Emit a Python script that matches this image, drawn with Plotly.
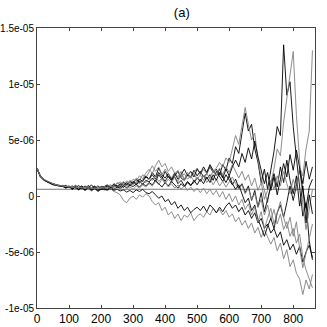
import plotly.graph_objects as go

# sample positions (iteration index), one value every 10 steps
steps = list(range(0, 870, 10))

# series values, in units of 1e-6
s1 = [2.5, 1.8, 1.5, 1.3, 1.2, 1.1, 1.0, 0.9, 0.95, 0.8, 0.9, 0.7, 0.95, 0.75, 0.9, 0.65, 0.95, 0.7, 0.9, 0.6, 0.85,
      0.85, 1.0, 0.7, 1.1, 0.9, 0.8, 1.2, 1.0, 1.3, 1.1, 1.5, 1.2, 1.4, 1.8, 1.5,
      2.1, 1.7, 2.5, 1.9, 1.6, 2.0, 1.5, 1.8, 2.2, 1.6, 1.4, 1.9, 1.7, 2.3, 1.8,
      2.2, 1.7, 2.0, 2.6, 2.1, 2.4, 1.9, 2.8, 2.3, 3.4, 2.9, 4.4, 3.8, 5.6, 7.4,
      5.8, 6.4, 4.2, 3.0, 1.2, 2.4, 0.6, 2.2, 4.0, 6.2, 5.4, 13.5, 9.0, 10.2, 6.2,
      3.4, 0.8, -1.8, -0.6, -4.0, -5.7]
s2 = [2.5, 1.7, 1.4, 1.25, 1.1, 1.0, 0.95, 0.9, 0.85, 0.9, 0.8, 0.75, 0.8, 0.7, 0.75, 0.7, 0.75, 0.65, 0.7, 0.7, 0.8,
      0.75, 0.9, 1.0, 0.8, 1.2, 1.0, 1.3, 0.9, 1.4, 1.2, 1.6, 1.4, 1.9, 1.6, 2.2,
      2.7, 2.2, 2.6, 1.9, 2.4, 2.0, 1.6, 2.1, 1.7, 2.2, 1.5, 1.8, 1.6, 2.1, 2.5,
      1.9, 2.4, 2.0, 2.7, 2.2, 2.5, 3.0, 2.6, 3.4, 3.0, 4.2, 5.4, 4.6, 6.2, 7.9,
      6.4, 5.0, 5.6, 3.2, 1.6, 0.4, -0.6, 1.2, 2.4, 4.2, 3.6, 6.6, 8.8, 10.6, 12.9,
      7.2, 3.6, -0.8, -3.0, -1.0, 0.6]
s3 = [2.5, 1.8, 1.5, 1.35, 1.2, 1.05, 1.0, 0.95, 0.9, 0.8, 0.85, 0.65, 0.85, 0.6, 0.8, 0.55, 0.8, 0.6, 0.85, 0.5, 0.7,
      0.7, 0.85, 0.6, 0.9, 0.8, 1.0, 0.75, 1.1, 0.9, 1.2, 1.0, 1.3, 1.05, 1.4, 1.25,
      1.6, 1.3, 1.9, 1.5, 2.2, 1.7, 1.4, 1.7, 1.1, 1.4, 0.9, 1.3, 1.0, 1.2, 1.6,
      1.3, 1.8, 1.5, 1.9, 1.4, 2.2, 1.8, 1.3, 1.9, 1.4, 1.0, 1.5, 0.7, 1.1, 0.3,
      0.9, -0.4, 0.5, -1.0, 0.3, -1.4, -0.3, 0.9, 2.0, 0.8, 2.6, 1.2, 3.2, 1.4, 0.2,
      1.8, -0.9, 0.9, -2.4, 0.1, -1.6]
s4 = [2.5, 1.8, 1.45, 1.3, 1.15, 1.05, 0.95, 0.9, 0.85, 0.85, 0.8, 0.8, 0.75, 0.7, 0.75, 0.7, 0.65, 0.7, 0.6, 0.65, 0.6,
      0.6, 0.5, 0.65, 0.4, 0.3, 0.1, -0.4, -0.6, -0.2, 0.0, -0.3, 0.1, -0.1, 0.2, 0.0,
      -0.5, -0.8, -0.6, -1.3, -1.0, -1.7, -1.4, -2.0, -1.6, -2.2, -1.7, -1.9, -1.5, -2.2, -1.8,
      -1.6, -1.9, -1.4, -1.7, -1.1, -1.5, -1.2, -1.7, -1.3, -1.9, -1.6, -2.3, -1.9, -2.6, -2.2,
      -2.9, -2.4, -3.3, -2.8, -3.7, -3.0, -3.6, -4.3, -3.7, -4.9, -4.2, -5.6, -4.8, -6.3, -5.7,
      -6.9, -7.4, -8.8, -7.5, -8.3, -7.0]
s5 = [2.5, 1.75, 1.5, 1.3, 1.2, 1.1, 1.0, 0.9, 0.9, 0.75, 0.85, 0.6, 0.8, 0.55, 0.85, 0.5, 0.75, 0.45, 0.7, 0.4, 0.65,
      0.6, 0.55, 0.7, 0.5, 0.6, 0.45, 0.55, 0.35, 0.5, 0.3, 0.55, 0.4, 0.6, 0.3, 0.2,
      0.4, 0.1, -0.2, 0.0, -0.5, -0.3, -0.8, -0.5, -1.1, -0.8, -1.3, -1.0, -1.5, -1.2, -1.0,
      -1.3, -0.9, -1.4, -0.8, -1.1, -1.5, -1.0, -1.4, -0.9, -0.6, -1.1, -0.8, -1.4, -1.0, -1.7,
      -1.3, -2.0, -1.5, -2.4, -2.0, -2.9, -2.5, -3.3, -2.9, -3.7, -3.2, -4.4, -3.9, -4.8, -4.3,
      -5.2, -4.5, -5.9, -5.0, -4.4, -5.5]
s6 = [2.5, 1.8, 1.5, 1.3, 1.15, 1.1, 1.0, 0.95, 0.9, 0.85, 0.8, 0.8, 0.8, 0.75, 0.7, 0.75, 0.7, 0.7, 0.75, 0.7, 0.7,
      0.8, 0.7, 0.95, 0.85, 1.1, 1.25, 1.05, 1.35, 1.15, 1.5, 1.35, 1.8, 1.55, 2.05, 2.4,
      2.0, 2.7, 3.2, 2.6, 2.9, 2.2, 2.6, 2.0, 2.3, 1.7, 2.0, 1.5, 1.8, 1.3, 1.7,
      1.3, 1.8, 1.2, 1.6, 1.0, 1.5, 0.9, 1.3, 0.8, 1.2, 1.7, 1.1, 0.6, 1.0, 0.2,
      0.7, -0.3, 0.2, -1.0, -0.3, -1.7, -0.8, -2.1, -1.2, -2.5, -1.6, -3.0, -2.3, -3.6, -2.9,
      -4.2, -3.4, -5.5, -6.6, -7.4, -8.2]
s7 = [2.5, 1.8, 1.5, 1.3, 1.2, 1.05, 1.0, 0.95, 0.85, 0.95, 0.75, 0.9, 0.7, 0.95, 0.65, 0.9, 0.7, 1.0, 0.65, 0.9, 0.7,
      0.75, 0.9, 0.8, 1.0, 0.85, 1.1, 0.95, 1.2, 1.0, 1.3, 1.1, 1.5, 1.3, 1.7, 1.5,
      1.9, 1.5, 2.1, 1.7, 1.3, 1.8, 1.4, 2.0, 1.5, 1.9, 2.4, 1.8, 2.2, 1.7, 2.4,
      2.0, 2.6, 2.1, 2.8, 2.3, 1.8, 2.4, 1.7, 1.2, 1.8, 1.1, 0.6, 1.0, 0.2, -0.6,
      -0.2, -1.3, -0.8, -2.1, -2.8, -3.6, -2.7, -2.0, -2.9, -1.5, -0.8, -1.9, -0.6, 0.9, -0.4,
      1.0, 2.3, 0.6, -1.1, 0.8, 1.5]
s8 = [2.5, 1.8, 1.5, 1.3, 1.15, 1.05, 1.0, 0.9, 0.9, 0.85, 0.8, 0.8, 0.75, 0.8, 0.75, 0.7, 0.7, 0.7, 0.65, 0.7, 0.75,
      0.8, 0.75, 0.85, 0.9, 0.8, 0.95, 1.0, 0.9, 1.2, 1.0, 1.3, 1.1, 1.4, 1.2, 1.6,
      1.4, 1.8, 1.3, 1.6, 1.1, 1.5, 1.2, 1.7, 1.3, 1.9, 1.5, 2.1, 1.6, 2.0, 1.5,
      1.9, 1.4, 2.0, 1.6, 2.3, 1.8, 2.5, 1.9, 2.6, 2.1, 2.8, 2.2, 1.6, 2.2, 1.4,
      1.9, 0.9, 1.6, 0.5, 1.2, -0.3, 0.5, 1.4, 0.6, 1.8, 0.9, 2.2, 1.1, 0.2, 1.5,
      0.5, 2.6, 1.8, 4.2, 5.8, 13.0]
s9 = [2.5, 1.75, 1.45, 1.3, 1.1, 1.0, 0.95, 0.9, 0.85, 0.7, 0.85, 0.6, 0.8, 0.55, 0.75, 0.5, 0.8, 0.55, 0.7, 0.5, 0.6,
      0.65, 0.6, 0.75, 0.6, 0.8, 0.7, 0.9, 0.75, 0.95, 0.85, 1.05, 0.8, 1.1, 0.9, 1.2,
      1.0, 1.4, 1.1, 0.8, 1.2, 0.9, 1.3, 1.0, 0.7, 1.1, 0.8, 1.2, 0.9, 1.4, 1.0,
      1.5, 1.1, 1.7, 1.2, 1.9, 1.4, 2.1, 1.6, 2.4, 1.8, 2.6, 3.2, 2.6, 3.8, 3.0,
      4.3, 3.3, 4.9, 3.5, 2.3, 1.1, 2.1, 0.5, 1.7, 0.1, 1.5, 2.9, 1.7, 3.7, 2.3,
      4.1, 2.5, 1.1, 3.1, 1.5, 2.6]
s10 = [2.5, 1.8, 1.5, 1.35, 1.2, 1.1, 1.0, 0.9, 0.9, 0.85, 0.8, 0.8, 0.8, 0.75, 0.7, 0.7, 0.75, 0.7, 0.7, 0.65, 0.7,
       0.7, 0.8, 0.65, 0.75, 0.6, 0.7, 0.5, 0.65, 0.8, 0.6, 0.9, 0.7, 1.0, 0.8, 1.1,
       0.9, 1.3, 1.0, 1.5, 1.2, 0.8, 1.1, 0.7, 1.0, 0.6, 0.9, 0.5, 0.8, 0.4, 0.7,
       0.3, 0.7, 0.2, 0.6, 0.1, 0.5, -0.1, 0.4, -0.3, 0.2, -0.5, 0.0, -0.8, -0.3, -1.2,
       -0.7, -1.7, -1.0, -2.3, -1.4, -2.9, -2.0, -1.1, -2.5, -1.4, -0.5, -1.9, -2.9, -1.9, -3.6,
       -2.3, -4.7, -6.4, -5.1, -3.7, -2.5]

series = [s1, s2, s3, s4, s5, s6, s7, s8, s9, s10]
colors = ["#000000", "#808080"]

ref_level = 0.6e-6  # thin horizontal reference line
x_max = 868

y_ticks = [-1e-05, -5e-06, 0, 5e-06, 1e-05, 1.5e-05]
y_ticktext = ["-1e-05", "-5e-06", "0", "5e-06", "1e-05", "1.5e-05"]
x_ticks = [0, 100, 200, 300, 400, 500, 600, 700, 800]

fig = go.Figure()
fig.add_trace(go.Scatter(x=[0, x_max], y=[ref_level, ref_level], mode="lines",
                         line=dict(color="#555555", width=0.8), showlegend=False, hoverinfo="skip"))
for i, s in enumerate(series):
    fig.add_trace(go.Scatter(x=steps, y=[v * 1e-6 for v in s], mode="lines",
                             line=dict(color=colors[i % 2], width=0.9), showlegend=False))

font_family = "Liberation Sans, Arial, sans-serif"
fig.update_layout(
    width=327, height=327,
    margin=dict(l=37, r=12, t=28, b=19),
    paper_bgcolor="white", plot_bgcolor="white",
    title=dict(text="(a)", x=0.556, xref="container", xanchor="center",
               y=0.962, yref="container", yanchor="middle",
               font=dict(family=font_family, size=13, color="black")),
    font=dict(family=font_family, color="black"),
)
fig.update_xaxes(range=[0, x_max], tickvals=x_ticks, ticks="inside", ticklen=3,
                 mirror="allticks", showline=True, linecolor="#444444", linewidth=1,
                 showgrid=False, zeroline=False, tickfont=dict(size=12), automargin=False)
fig.update_yaxes(range=[-1e-05, 1.5e-05], tickvals=y_ticks, ticktext=y_ticktext,
                 ticks="inside", ticklen=3, mirror="allticks", showline=True,
                 linecolor="#444444", linewidth=1, showgrid=False, zeroline=False,
                 tickfont=dict(size=10), automargin=False)

# page body has a default 8px margin; drop it so the figure sits at the corner
fig.write_html("out.html", config={"displayModeBar": False},
               post_script="document.body.style.margin='0px';")
